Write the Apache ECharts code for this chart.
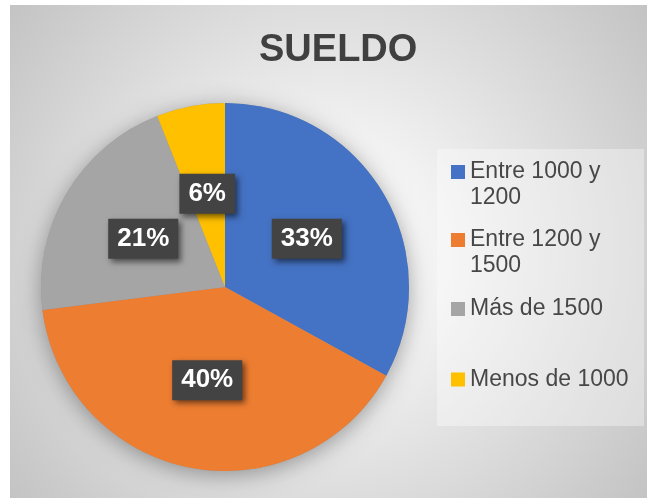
<!DOCTYPE html>
<html>
<head>
<meta charset="utf-8">
<script src="https://cdn.jsdelivr.net/npm/echarts@6/dist/echarts.min.js"></script>
<style>
  html, body { margin: 0; padding: 0; background: #fff; }
  #chart { width: 647px; height: 498px; }
</style>
</head>
<body>
<div id="chart"></div>
<script>
// Salary brackets and their share (%)
const categories = ['Entre 1000 y 1200', 'Entre 1200 y 1500', 'Más de 1500', 'Menos de 1000'];
const legendLines = [['Entre 1000 y', '1200'], ['Entre 1200 y', '1500'], ['Más de 1500'], ['Menos de 1000']];
const shares = [33, 40, 21, 6];
const colors = ['#4472C4', '#ED7D31', '#A5A5A5', '#FFC000'];

const FONT = 'Arial, "Liberation Sans", sans-serif';
const LEG_LINE = 26;
const legendCenters = [172, 240, 309, 379.5];
const PIE_CENTER = [225, 287];
const PIE_RADIUS = 184;

const pieData = categories.map((name, i) => ({ name: name, value: shares[i] }));

// One legend per entry so each marker sits beside the first line of its label
const legends = categories.map((name, i) => {
  const lines = legendLines[i];
  const twoLines = lines.length > 1;
  // a leading empty line keeps the first text line level with the marker
  const text = twoLines ? '\n' + lines.join('\n') : lines[0];
  const boxH = twoLines ? 3 * LEG_LINE : LEG_LINE;
  return {
    orient: 'vertical',
    left: 451,
    top: legendCenters[i] - boxH / 2,
    padding: 0,
    icon: 'rect',
    itemWidth: 14,
    itemHeight: 14,
    selectedMode: false,
    formatter: () => text,
    data: [name],
    textStyle: {
      fontFamily: FONT,
      fontSize: 23,
      lineHeight: LEG_LINE,
      color: '#474747'
    }
  };
});

const chart = echarts.init(document.getElementById('chart'), null, { renderer: 'canvas' });
chart.setOption({
  animation: false,
  backgroundColor: '#ffffff',
  color: colors,
  graphic: [
    {
      type: 'rect',
      z: -10,
      shape: { x: 10, y: 5, width: 637, height: 493 },
      style: {
        fill: new echarts.graphic.RadialGradient(0.5, 0.5, 0.82, [
          { offset: 0, color: '#ffffff' },
          { offset: 0.3, color: '#f1f1f1' },
          { offset: 0.65, color: '#dadada' },
          { offset: 1, color: '#c3c3c3' }
        ])
      }
    },
    {
      type: 'rect',
      z: -9,
      shape: { x: 437, y: 149, width: 207, height: 277 },
      style: { fill: 'rgba(255,255,255,0.35)' }
    }
  ],
  title: {
    text: 'SUELDO',
    left: 259,
    top: 32,
    padding: 0,
    textStyle: {
      fontFamily: FONT,
      fontSize: 38,
      fontWeight: 'bold',
      color: '#404040'
    }
  },
  legend: legends,
  series: [
    {
      name: 'SUELDO',
      type: 'pie',
      z: 2,
      center: PIE_CENTER,
      radius: PIE_RADIUS,
      startAngle: 90,
      clockwise: true,
      data: pieData,
      itemStyle: { borderWidth: 0 },
      emphasis: { scale: false },
      labelLine: { show: false },
      label: {
        show: true,
        position: 'inside',
        formatter: '{c}%',
        fontFamily: FONT,
        fontSize: 26,
        fontWeight: 'bold',
        lineHeight: 26,
        color: '#ffffff',
        backgroundColor: '#434343',
        padding: [7, 9, 7, 9],
        shadowColor: 'rgba(0,0,0,0.55)',
        shadowBlur: 6,
        shadowOffsetX: 3,
        shadowOffsetY: 3
      }
    },
    {
      // soft halo underneath the pie
      type: 'pie',
      silent: true,
      z: 1,
      center: PIE_CENTER,
      radius: PIE_RADIUS,
      startAngle: 90,
      data: pieData,
      label: { show: false },
      labelLine: { show: false },
      itemStyle: {
        color: '#9a9a9a',
        borderWidth: 0,
        shadowBlur: 22,
        shadowColor: 'rgba(0,0,0,0.35)',
        shadowOffsetY: 4
      },
      emphasis: { disabled: true },
      legendHoverLink: false
    }
  ]
});
</script>
</body>
</html>
